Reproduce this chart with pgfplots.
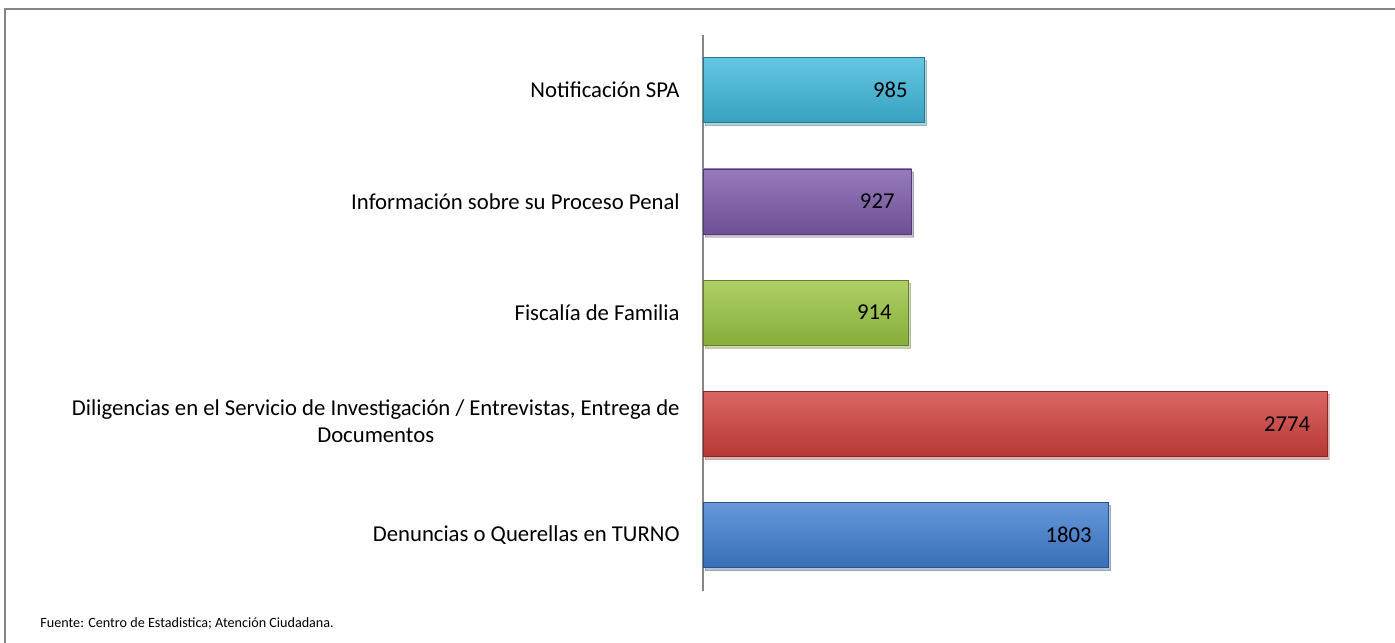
\documentclass[border=0pt]{standalone}
\usepackage{pgfplots}
\pgfplotsset{compat=1.18}
\usetikzlibrary{shadows}
\usepackage{fontspec}
\setmainfont{Carlito}
\definecolor{cCyan}{RGB}{62,184,218}
\definecolor{cPurple}{RGB}{124,90,170}
\definecolor{cGreen}{RGB}{154,196,66}
\definecolor{cRed}{RGB}{208,64,60}
\definecolor{cBlue}{RGB}{64,126,208}
\definecolor{frame}{RGB}{134,134,134}
\tikzset{bevel/.style={draw=#1!65!black, line width=0.4bp, top color=#1!80!white, middle color=#1, bottom color=#1!88!black,
  drop shadow={opacity=0.25, shadow xshift=1bp, shadow yshift=-1.5bp}}}
\begin{document}
\begin{tikzpicture}
\useasboundingbox (0,0) rectangle (697.5bp,321.5bp);
\draw[frame, line width=1.2bp] (2.5bp,0) -- (2.5bp,317bp) -- (697.5bp,317bp);
\begin{axis}[
  at={(351.5bp,26.2bp)}, anchor=south west,
  scale only axis, width=337.5bp, height=278bp,
  xbar, bar width=32.5bp, bar shift=0pt,
  xmin=0, xmax=3000, ymin=-0.5, ymax=4.5,
  axis x line=none, axis y line*=left,
  y axis line style={draw=frame, line width=0.8bp, -},
  ytick={0,1,2,3,4}, major tick length=0pt,
  yticklabels={Denuncias o Querellas en TURNO,
    {\begin{tabular}{@{}c@{}}Diligencias en el Servicio de Investigación / Entrevistas, Entrega de\\Documentos\end{tabular}},
    Fiscalía de Familia, Información sobre su Proceso Penal, Notificación SPA},
  yticklabel style={font=\fontsize{11.4}{13.5}\selectfont, inner sep=0pt, xshift=-11.5bp},
  nodes near coords,
  /pgf/number format/assume math mode=true,
  /pgf/number format/1000 sep={},
  every node near coord/.append style={font=\fontsize{11.4}{13.5}\selectfont, anchor=east, xshift=-5bp, text=black},
  clip=false,
]
\addplot[bevel=cBlue] coordinates {(1803,0)};
\addplot[bevel=cRed] coordinates {(2774,1)};
\addplot[bevel=cGreen] coordinates {(914,2)};
\addplot[bevel=cPurple] coordinates {(927,3)};
\addplot[bevel=cCyan] coordinates {(985,4)};
\end{axis}
\node[anchor=west, inner sep=0pt, font=\fontsize{7.1}{9}\selectfont] at (20bp,10bp) {Fuente: Centro de Estadistica; Atención Ciudadana.};
\end{tikzpicture}
\end{document}
